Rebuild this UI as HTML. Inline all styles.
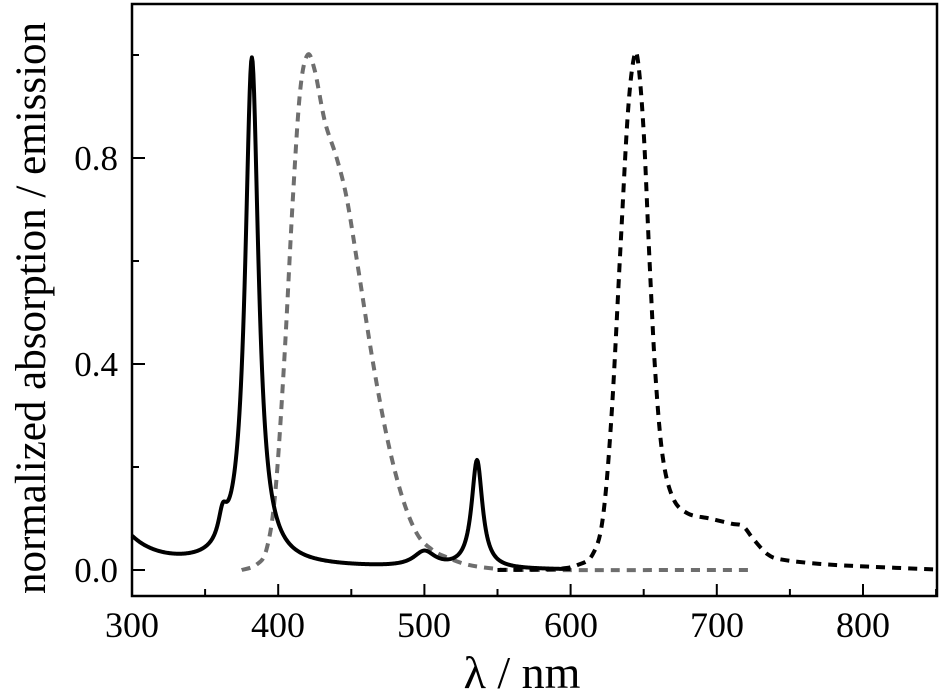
<!DOCTYPE html>
<html><head><meta charset="utf-8"><style>body{margin:0;background:#fff}svg{display:block}text{font-family:"Liberation Serif",serif;fill:#000}</style></head>
<body>
<svg id="s" width="941" height="694" viewBox="0 0 941 694">
<g id="g"></g>
<rect x="132" y="4" width="805" height="592" fill="none" stroke="#000" stroke-width="2.5"/>
<g font-size="36" text-anchor="middle">
<text x="132" y="637">300</text><text x="278" y="637">400</text><text x="424" y="637">500</text><text x="571" y="637">600</text><text x="717" y="637">700</text><text x="863" y="637">800</text>
</g>
<g font-size="35" text-anchor="end">
<text x="118" y="582">0.0</text><text x="118" y="376">0.4</text><text x="118" y="170">0.8</text>
</g>
<text x="522" y="688" font-size="46" text-anchor="middle">λ / nm</text>
<text transform="translate(45,308) rotate(-90)" font-size="43" text-anchor="middle">normalized absorption / emission</text>
</svg>
<script>
const X=w=>132+(w-300)*1.462, Y=v=>570-v*515;
const g=document.getElementById('g');let h='';
for(let w=350;w<=850;w+=50){const x=X(w),L=(w%100==0)?12:7;h+=`<line x1="${x}" y1="596" x2="${x}" y2="${596-L}" stroke="#000" stroke-width="2"/>`;}
for(let v=0;v<=1.01;v+=0.2){const y=Y(v),L=(Math.round(v*10)%4==0)?13:7;h+=`<line x1="132" y1="${y}" x2="${132+L}" y2="${y}" stroke="#000" stroke-width="2"/>`;}
const Lz=(x,x0,w,a)=>a/(1+((x-x0)/w)**2);
let p=[];for(let w=300;w<=600;w+=0.5){let v=0.05*Math.exp(-(w-300)/18)+0.012+Lz(w,382,5.5,0.985)+Lz(w,362,3.5,0.05)+Lz(w,500,9,0.03)+Lz(w,536,4.5,0.21)-0.012*Math.min(1,(w-300)/250);p.push([X(w),Y(v)]);}
function cr(pts){let d=`M${pts[0][0]},${pts[0][1]}`;for(let i=0;i<pts.length-1;i++){const p0=pts[Math.max(0,i-1)],p1=pts[i],p2=pts[i+1],p3=pts[Math.min(pts.length-1,i+2)];d+=`C${p1[0]+(p2[0]-p0[0])/6},${p1[1]+(p2[1]-p0[1])/6} ${p2[0]-(p3[0]-p1[0])/6},${p2[1]-(p3[1]-p1[1])/6} ${p2[0]},${p2[1]}`;}return d;}
const gray=[[375,0],[385,0.01],[392,0.04],[398,0.15],[404,0.4],[410,0.72],[415,0.93],[420,1.0],[425,0.97],[432,0.87],[440,0.8],[447,0.72],[455,0.58],[465,0.4],[475,0.25],[485,0.14],[495,0.07],[505,0.04],[515,0.025],[530,0.01],[550,0.002],[570,0],[725,0]].map(a=>[X(a[0]),Y(a[1])]);
const bd=[[550,0],[590,0.002],[605,0.01],[615,0.03],[622,0.1],[628,0.3],[634,0.62],[639,0.88],[643,0.99],[646,0.99],[650,0.85],[654,0.6],[658,0.38],[663,0.22],[670,0.14],[680,0.11],[695,0.1],[710,0.09],[718,0.085],[725,0.06],[735,0.03],[745,0.02],[770,0.012],[800,0.007],[850,0.001]].map(a=>[X(a[0]),Y(a[1])]);
h+=`<path d="${cr(gray)}" fill="none" stroke="#6e6e6e" stroke-width="4" stroke-dasharray="9 7"/>`;
h+=`<path d="${cr(bd)}" fill="none" stroke="#000" stroke-width="4" stroke-dasharray="9 7"/>`;
h+=`<path d="M${p.map(a=>a.join(',')).join('L')}" fill="none" stroke="#000" stroke-width="4" stroke-linejoin="round"/>`;
g.innerHTML=h;
</script>
</body></html>
